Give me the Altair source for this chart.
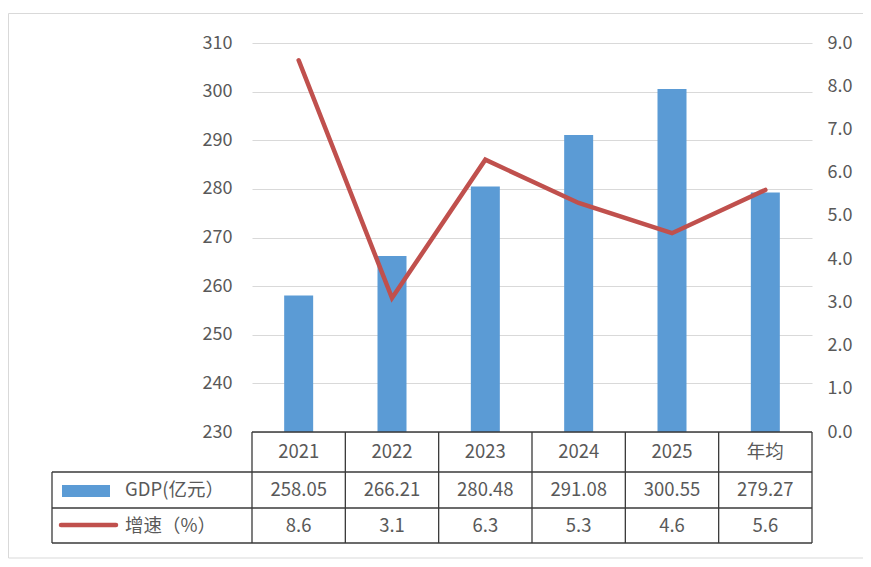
import altair as alt
import pandas as pd

years = ["2021", "2022", "2023", "2024", "2025", "年均"]
gdp = [258.05, 266.21, 280.48, 291.08, 300.55, 279.27]
growth = [8.6, 3.1, 6.3, 5.3, 4.6, 5.6]
gdp_labels = ["258.05", "266.21", "280.48", "291.08", "300.55", "279.27"]
growth_labels = ["8.6", "3.1", "6.3", "5.3", "4.6", "5.6"]
series_names = ["GDP(亿元）", "增速（%）"]
left_ticks = [230, 240, 250, 260, 270, 280, 290, 300, 310]
right_ticks = [0, 1, 2, 3, 4, 5, 6, 7, 8, 9]

FONT = "Noto Sans CJK SC"
TXT = "#595959"
BLUE = "#5B9BD5"
RED = "#C0504D"
LINE = "#3a3a3a"
FRAME = "#d9d9d9"

df = pd.DataFrame({"year": years, "gdp": gdp, "growth": growth,
                   "gdp_l": gdp_labels, "growth_l": growth_labels})
one = pd.DataFrame({"a": [0]})

xscale = alt.Scale(domain=years, paddingInner=0, paddingOuter=0)
X = alt.X("year:N", scale=xscale, sort=years, axis=None)

W, H = 560, 389
# table row geometry (pixels relative to plot origin)
r0, r1, r2, r3 = 389, 429, 465, 500
left_col = -200

# outer frame: left, top and bottom edges only (right edge lies outside the picture)
fr_left = alt.Chart(one).mark_rule(color=FRAME, strokeWidth=1).encode(
    x=alt.value(-243.5), y=alt.value(-29.5), y2=alt.value(515))
fr_top = alt.Chart(one).mark_rule(color=FRAME, strokeWidth=1).encode(
    x=alt.value(-243.5), x2=alt.value(W + 60), y=alt.value(-29.5))
fr_bot = alt.Chart(one).mark_rule(color=FRAME, strokeWidth=1).encode(
    x=alt.value(-243.5), x2=alt.value(W + 60), y=alt.value(515))

bars = alt.Chart(df).mark_bar(size=29, color=BLUE).encode(
    x=X,
    y=alt.Y("gdp:Q", title=None,
            scale=alt.Scale(domain=[230, 310], zero=False, nice=False),
            axis=alt.Axis(orient="left", values=left_ticks, grid=True, gridColor="#d9d9d9",
                          gridWidth=1, domain=False, ticks=False, labelPadding=20,
                          labelFontSize=18, labelColor=TXT, labelFont=FONT)),
    y2=alt.datum(230),
)

line = alt.Chart(df).mark_line(color=RED, strokeWidth=4.5, strokeCap="round", strokeJoin="miter").encode(
    x=X,
    y=alt.Y("growth:Q", title=None,
            scale=alt.Scale(domain=[0, 9], nice=False),
            axis=alt.Axis(orient="right", values=right_ticks, format=".1f", grid=False,
                          domain=False, ticks=False, labelPadding=15, labelFontSize=18,
                          labelColor=TXT, labelFont=FONT)),
)

# table lines
hline_top = alt.Chart(one).mark_rule(color=LINE, strokeWidth=1.3).encode(
    x=alt.value(0), x2=alt.value(W), y=alt.value(r0))
hlines = alt.Chart(pd.DataFrame({"yy": [r1, r2, r3]})).mark_rule(color=LINE, strokeWidth=1.3).encode(
    x=alt.value(left_col), x2=alt.value(W), y=alt.Y("yy:Q", scale=None))
vlines = alt.Chart(df).mark_rule(color=LINE, strokeWidth=1.3).encode(
    x=alt.X("year:N", scale=xscale, sort=years, axis=None, bandPosition=0),
    y=alt.value(r0), y2=alt.value(r3))
vline_right = alt.Chart(df.tail(1)).mark_rule(color=LINE, strokeWidth=1.3).encode(
    x=alt.X("year:N", scale=xscale, sort=years, axis=None, bandPosition=1),
    y=alt.value(r0), y2=alt.value(r3))
vline_left = alt.Chart(one).mark_rule(color=LINE, strokeWidth=1.3).encode(
    x=alt.value(left_col), y=alt.value(r1), y2=alt.value(r3))

txt_kw = dict(font=FONT, fontSize=18.5, color=TXT, baseline="middle", align="center")
t_year = alt.Chart(df).mark_text(**txt_kw).encode(x=X, y=alt.value((r0 + r1) / 2), text="year:N")
t_gdp = alt.Chart(df).mark_text(**txt_kw).encode(x=X, y=alt.value((r1 + r2) / 2), text="gdp_l:N")
t_gr = alt.Chart(df).mark_text(**txt_kw).encode(x=X, y=alt.value((r2 + r3) / 2), text="growth_l:N")

# legend column
sw_bar = alt.Chart(one).mark_rect(color=BLUE).encode(
    x=alt.value(-190), x2=alt.value(-142), y=alt.value(442), y2=alt.value(454))
sw_line = alt.Chart(one).mark_rule(color=RED, strokeWidth=4.5, strokeCap="round").encode(
    x=alt.value(-191), x2=alt.value(-136), y=alt.value(482))
lg1 = alt.Chart(one).mark_text(font=FONT, fontSize=18.5, color=TXT, baseline="middle", align="left",
                               text=series_names[0]).encode(x=alt.value(-127), y=alt.value((r1 + r2) / 2))
lg2 = alt.Chart(one).mark_text(font=FONT, fontSize=18.5, color=TXT, baseline="middle", align="left",
                               text=series_names[1]).encode(x=alt.value(-127), y=alt.value((r2 + r3) / 2))

chart = alt.layer(
    fr_left, fr_top, fr_bot, bars, line, hline_top, hlines, vlines, vline_right, vline_left,
    t_year, t_gdp, t_gr, sw_bar, sw_line, lg1, lg2
).resolve_scale(y="independent").properties(
    width=W, height=H,
    autosize=alt.AutoSizeParams(type="none"),
    padding={"left": 244, "top": 35, "right": 51, "bottom": 127},
    background="white",
).configure_view(stroke=None)

chart.save("out.html", embed_options={"renderer": "svg", "actions": False})
